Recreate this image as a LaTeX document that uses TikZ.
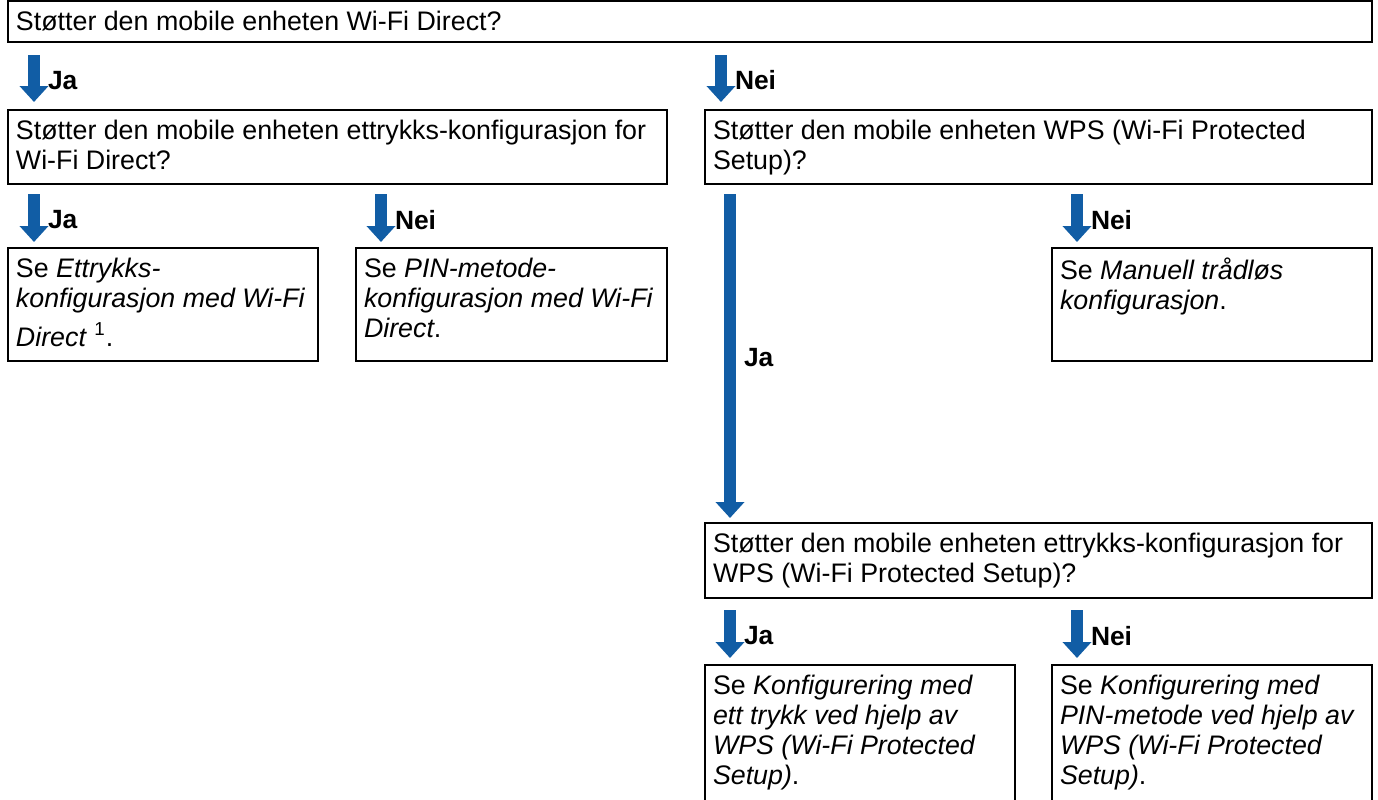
\documentclass[tikz,border=0pt]{standalone}
\usepackage{fontspec}
\setmainfont{Liberation Sans}
\usepackage{tikz}
\usetikzlibrary{positioning,calc,arrows.meta}

\definecolor{FlowBlue}{RGB}{17,93,165}
\newcommand{\boxtxt}[3]{\parbox[c][#1][t]{#2}{\raggedright #3}}

\begin{document}
\begin{tikzpicture}[x=0.5pt,y=-0.5pt]
  \tikzset{BoxStyle/.style = {
    shape         = rectangle,
    draw          = black,
    line width    = 1.2pt,
    anchor        = north west,
    inner xsep    = 4pt,
    inner ysep    = 5pt,
    outer sep     = 0pt,
    font          = \fontsize{13.4}{15}\selectfont
    }
  }
  \tikzset{ArrowStyle/.style = {
    draw          = FlowBlue,
    line width    = 6pt,
    -{Triangle[width=14pt,length=8pt]}
    }
  }
  \tikzset{LabelStyle/.style = {
    anchor        = west,
    inner sep     = 0pt,
    xshift        = 4pt,
    yshift        = -1pt,
    font          = \fontsize{13.2}{15}\selectfont\bfseries
    }
  }

  \useasboundingbox (0,0) rectangle (1378,799);
  \clip (0,0) rectangle (1378,799);

	\node[BoxStyle](Q1) at (8,1) {\boxtxt{10.5pt}{674pt}{Støtter den mobile enheten Wi-Fi Direct?}};
	\node[BoxStyle](Q2) at (8,110) {\boxtxt{27pt}{321.5pt}{Støtter den mobile enheten ettrykks-konfigurasjon for\\Wi-Fi Direct?}};
	\node[BoxStyle](Q3) at (705,110) {\boxtxt{27pt}{325.5pt}{Støtter den mobile enheten WPS (Wi-Fi Protected\\Setup)?}};
	\node[BoxStyle](A1) at (8,248) {\boxtxt{46.5pt}{147pt}{Se \textit{Ettrykks-}\\\textit{konfigurasjon med Wi-Fi}\\[4.5pt]\textit{Direct} \textsuperscript{1}.}};
	\node[BoxStyle](A2) at (356,248) {\boxtxt{46.5pt}{147.5pt}{Se \textit{PIN-metode-}\\\textit{konfigurasjon med Wi-Fi}\\\textit{Direct}.}};
	\node[BoxStyle](A3) at (1052,248) {\boxtxt{46.5pt}{152pt}{Se \textit{Manuell trådløs}\\\textit{konfigurasjon}.}};
	\node[BoxStyle](Q4) at (705,523) {\boxtxt{27.5pt}{325.5pt}{Støtter den mobile enheten ettrykks-konfigurasjon for\\WPS (Wi-Fi Protected Setup)?}};
	\node[BoxStyle](A4) at (705,665) {\boxtxt{80pt}{147pt}{Se \textit{Konfigurering med}\\\textit{ett trykk ved hjelp av}\\\textit{WPS (Wi-Fi Protected}\\\textit{Setup)}.}};
	\node[BoxStyle](A5) at (1052,665) {\boxtxt{80pt}{152pt}{Se \textit{Konfigurering med}\\\textit{PIN-metode ved hjelp av}\\\textit{WPS (Wi-Fi Protected}\\\textit{Setup)}.}};

	\draw[ArrowStyle] ($(Q2.north west |- Q1.south)+(26,13)$) -- node[LabelStyle]{Ja} ($(Q2.north west)+(26,-8)$);
	\draw[ArrowStyle] ($(Q3.north west |- Q1.south)+(16,13)$) -- node[LabelStyle]{Nei} ($(Q3.north west)+(16,-8)$);
	\draw[ArrowStyle] ($(A1.north west |- Q2.south)+(26,10)$) -- node[LabelStyle]{Ja} ($(A1.north west)+(26,-6)$);
	\draw[ArrowStyle] ($(A2.north west |- Q2.south)+(25,10)$) -- node[LabelStyle]{Nei} ($(A2.north west)+(25,-6)$);
	\draw[ArrowStyle] ($(Q4.north west |- Q3.south)+(25,10)$) -- node[LabelStyle]{Ja} ($(Q4.north west)+(25,-5)$);
	\draw[ArrowStyle] ($(A3.north west |- Q3.south)+(25,10)$) -- node[LabelStyle]{Nei} ($(A3.north west)+(25,-6)$);
	\draw[ArrowStyle] ($(A4.north west |- Q4.south)+(25,12)$) -- node[LabelStyle]{Ja} ($(A4.north west)+(25,-7)$);
	\draw[ArrowStyle] ($(A5.north west |- Q4.south)+(25,12)$) -- node[LabelStyle]{Nei} ($(A5.north west)+(25,-7)$);

  \end{tikzpicture}
\end{document}
